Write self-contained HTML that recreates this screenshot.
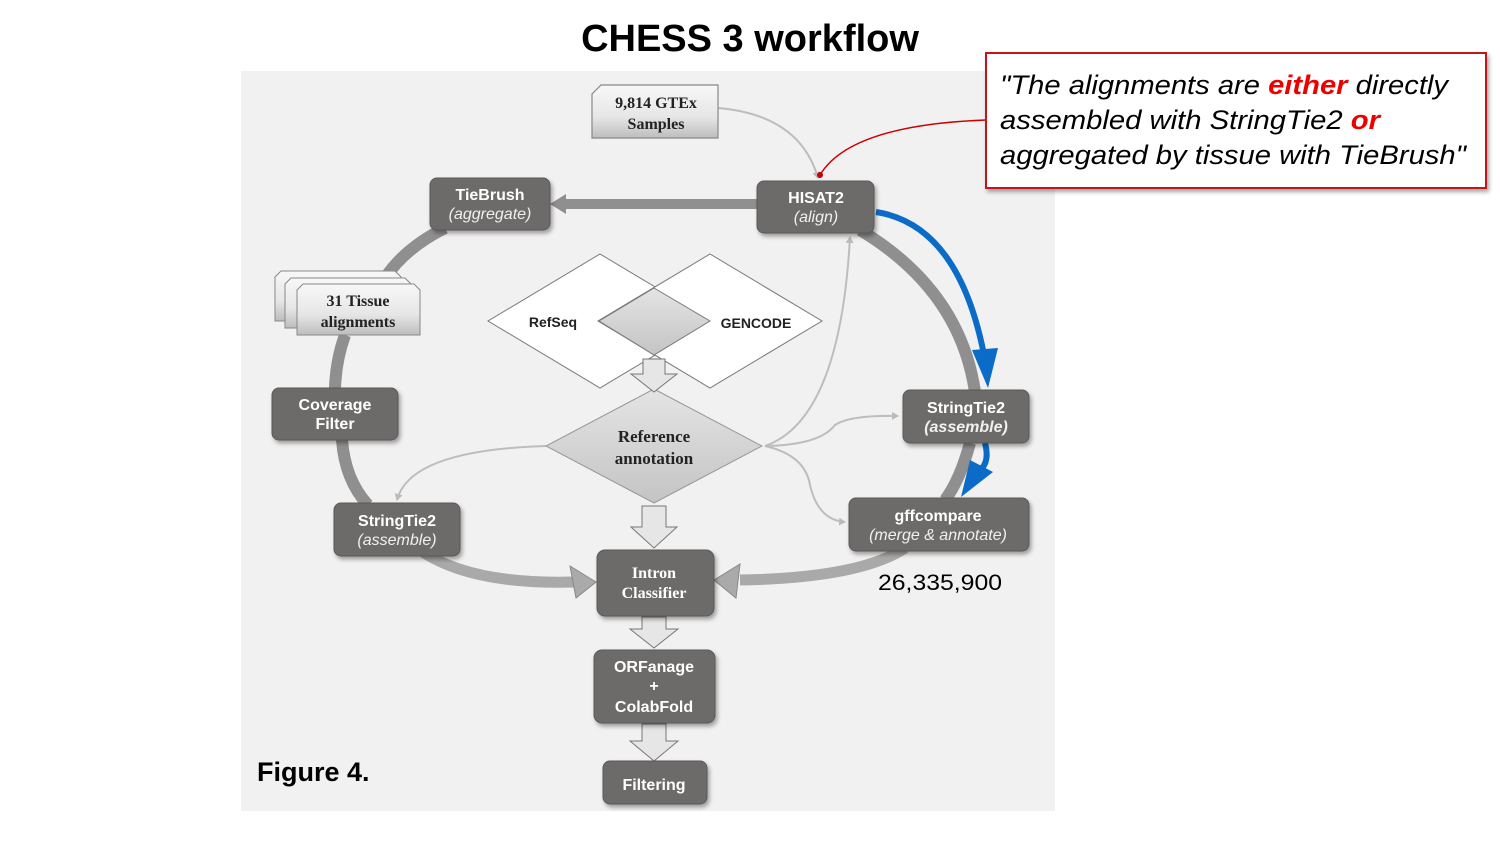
<!DOCTYPE html>
<html><head><meta charset="utf-8"><style>
html,body{margin:0;padding:0;background:#fff;}
body{width:1500px;height:844px;overflow:hidden;}
svg text{font-family:"Liberation Sans",sans-serif;}
</style></head><body>
<svg width="1500" height="844" viewBox="0 0 1500 844" xmlns="http://www.w3.org/2000/svg">
<defs>
<linearGradient id="lg" x1="0" y1="0" x2="0" y2="1"><stop offset="0" stop-color="#f8f8f8"/><stop offset="0.6" stop-color="#e6e6e6"/><stop offset="1" stop-color="#bdbdbd"/></linearGradient>
<linearGradient id="dg" x1="0" y1="0" x2="0" y2="1"><stop offset="0" stop-color="#e4e4e4"/><stop offset="1" stop-color="#c4c4c4"/></linearGradient>
<marker id="ga" markerWidth="8" markerHeight="8" refX="6" refY="4" orient="auto" markerUnits="userSpaceOnUse"><path d="M0,0 L7,4 L0,8 z" fill="#bbb"/></marker>
<marker id="ra" markerWidth="8" markerHeight="8" refX="4" refY="4" orient="auto" markerUnits="userSpaceOnUse"><circle cx="4" cy="4" r="3" fill="#c00"/></marker>
<filter id="sh" x="-5%" y="-5%" width="110%" height="115%"><feDropShadow dx="2" dy="3" stdDeviation="2" flood-color="#000" flood-opacity="0.35"/></filter>
</defs>
<text x="750" y="51" text-anchor="middle" font-size="38" font-weight="bold" fill="#000">CHESS 3 workflow</text>
<rect x="241" y="71" width="814" height="740" fill="#f1f1f1"/>

<g fill="none" stroke="#8f8f8f" stroke-width="12" stroke-linecap="butt">
<path d="M445,228 Q405,248 385,278"/>
<path d="M345,335 Q336,360 335,388"/>
<path d="M342,440 Q345,480 368,505"/>
<path d="M860,230 Q960,290 975,392"/>
<path d="M970,443 Q960,480 945,500"/>
</g>
<g fill="none" stroke="#a9a9a9" stroke-width="11">
<path d="M420,550 Q470,585 575,582"/>
<path d="M905,548 Q860,578 740,580"/>
</g>
<path d="M570,566 L596,582 L576,598 Z" fill="#aaa" stroke="#888"/>
<path d="M740,564 L714,580 L736,598 Z" fill="#aaa" stroke="#888"/>
<rect x="565" y="199" width="193" height="10" fill="#8f8f8f"/>
<path d="M566,194 L550,204 L566,214 Z" fill="#8f8f8f"/>

<g fill="none" stroke="#bdbdbd" stroke-width="2">
<path d="M718,108 Q800,115 818,178" marker-end="url(#ga)"/>
<path d="M765,446 Q840,420 850,237" marker-end="url(#ga)"/>
<path d="M765,446 Q820,445 835,425 Q850,415 898,416" marker-end="url(#ga)"/>
<path d="M765,446 Q805,455 810,485 Q818,520 845,522" marker-end="url(#ga)"/>
<path d="M546,446 Q410,450 397,500" marker-end="url(#ga)"/>
</g>

<path d="M876,212 Q960,225 985,360" fill="none" stroke="#0a6cc6" stroke-width="6"/>
<path d="M972,350 L988,388 L998,348 Z" fill="#0a6cc6"/>
<path d="M985,443 Q990,462 980,470" fill="none" stroke="#0a6cc6" stroke-width="6"/>
<path d="M970,460 L961,497 L993,472 Z" fill="#0a6cc6"/>

<path d="M601,85 L718,85 L718,138 L592,138 L592,94 Z" fill="url(#lg)" stroke="#888" stroke-width="1.2"/>
<text x="656" y="108" text-anchor="middle" style="font-family:'Liberation Serif',serif" font-size="16" font-weight="bold" fill="#222">9,814 GTEx</text>
<text x="656" y="129" text-anchor="middle" style="font-family:'Liberation Serif',serif" font-size="16" font-weight="bold" fill="#222">Samples</text>

<path d="M281,271 L395,271 L401,277 L401,321 L275,321 L275,277 Z" fill="url(#lg)" stroke="#888"/>
<path d="M291,278 L405,278 L411,284 L411,328 L285,328 L285,284 Z" fill="url(#lg)" stroke="#888"/>
<path d="M303,284 L414,284 L420,290 L420,335 L297,335 L297,290 Z" fill="url(#lg)" stroke="#888"/>
<text x="358" y="306" text-anchor="middle" style="font-family:'Liberation Serif',serif" font-size="16" font-weight="bold" fill="#222">31 Tissue</text>
<text x="358" y="327" text-anchor="middle" style="font-family:'Liberation Serif',serif" font-size="16" font-weight="bold" fill="#222">alignments</text>

<path d="M600,254 L712,321 L600,388 L488,321 Z" fill="#fff" stroke="#777" stroke-width="1"/>
<path d="M710,254 L822,321 L710,388 L598,321 Z" fill="#fff" stroke="#777" stroke-width="1"/>
<path d="M654,288 L710,321 L654,355 L599,321 Z" fill="url(#dg)" stroke="#777"/>
<text x="553" y="327" text-anchor="middle" font-size="14" font-weight="bold" fill="#222">RefSeq</text>
<text x="756" y="328" text-anchor="middle" font-size="14" font-weight="bold" fill="#222">GENCODE</text>
<path d="M654,389 L762,446 L654,503 L546,446 Z" fill="url(#dg)" stroke="#999"/>
<text x="654" y="442" text-anchor="middle" style="font-family:'Liberation Serif',serif" font-size="17" font-weight="bold" fill="#222">Reference</text>
<text x="654" y="464" text-anchor="middle" style="font-family:'Liberation Serif',serif" font-size="17" font-weight="bold" fill="#222">annotation</text>

<g fill="#e6e6e6" stroke="#777" stroke-width="1">
<path d="M643,359 L665,359 L665,374 L677,374 L654,392 L631,374 L643,374 Z"/>
<path d="M642,506 L666,506 L666,527 L677,527 L654,548 L631,527 L642,527 Z"/>
<path d="M642,617 L666,617 L666,629 L678,629 L654,648 L630,629 L642,629 Z"/>
<path d="M642,724 L666,724 L666,741 L678,741 L654,761 L630,741 L642,741 Z"/>
</g>

<g fill="#6d6a6a" stroke="#5b5959" stroke-width="1" filter="url(#sh)">
<rect x="430" y="178" width="120" height="52" rx="7"/>
<rect x="757" y="181" width="117" height="52" rx="7"/>
<rect x="272" y="388" width="126" height="52" rx="7"/>
<rect x="334" y="503" width="126" height="53" rx="7"/>
<rect x="903" y="390" width="126" height="53" rx="7"/>
<rect x="849" y="498" width="180" height="53" rx="7"/>
<rect x="597" y="550" width="117" height="66" rx="8"/>
<rect x="594" y="650" width="121" height="73" rx="8"/>
<rect x="603" y="761" width="104" height="43" rx="7"/>
</g>
<g fill="#fff" font-size="16" font-weight="bold" text-anchor="middle">
<text x="490" y="200">TieBrush</text>
<text x="816" y="203">HISAT2</text>
<text x="335" y="410">Coverage</text>
<text x="335" y="429">Filter</text>
<text x="397" y="526">StringTie2</text>
<text x="966" y="413">StringTie2</text>
<text x="938" y="521">gffcompare</text>
<text x="654" y="672">ORFanage</text>
<text x="654" y="691">+</text>
<text x="654" y="712">ColabFold</text>
<text x="654" y="790">Filtering</text>
</g>
<g fill="#f0f0f0" font-size="16" font-style="italic" text-anchor="middle">
<text x="490" y="219">(aggregate)</text>
<text x="816" y="222">(align)</text>
<text x="397" y="545">(assemble)</text>
<text x="966" y="432" font-weight="bold">(assemble)</text>
<text x="938" y="540">(merge &amp; annotate)</text>
</g>
<text x="654" y="578" text-anchor="middle" style="font-family:'Liberation Serif',serif" font-size="16" font-weight="bold" fill="#fff">Intron</text>
<text x="654" y="598" text-anchor="middle" style="font-family:'Liberation Serif',serif" font-size="16" font-weight="bold" fill="#fff">Classifier</text>

<text x="878" y="590" font-size="22" fill="#000" textLength="124" lengthAdjust="spacingAndGlyphs">26,335,900</text>
<text x="257" y="781" font-size="27" font-weight="bold" fill="#000">Figure 4.</text>

<path d="M986,120 Q850,125 820,175" fill="none" stroke="#c00" stroke-width="1.5" marker-end="url(#ra)"/>
<rect x="986" y="53" width="500" height="135" fill="#fff" stroke="#c0141c" stroke-width="2" filter="url(#sh)"/>
<g font-size="27" font-style="italic" fill="#000">
<text x="1000" y="94" textLength="448" lengthAdjust="spacingAndGlyphs">"The alignments are <tspan fill="#e00" font-weight="bold">either</tspan> directly</text>
<text x="1000" y="129" textLength="380" lengthAdjust="spacingAndGlyphs">assembled with StringTie2 <tspan fill="#e00" font-weight="bold">or</tspan></text>
<text x="1000" y="164" textLength="466" lengthAdjust="spacingAndGlyphs">aggregated by tissue with TieBrush"</text>
</g>
</svg>
</body></html>
